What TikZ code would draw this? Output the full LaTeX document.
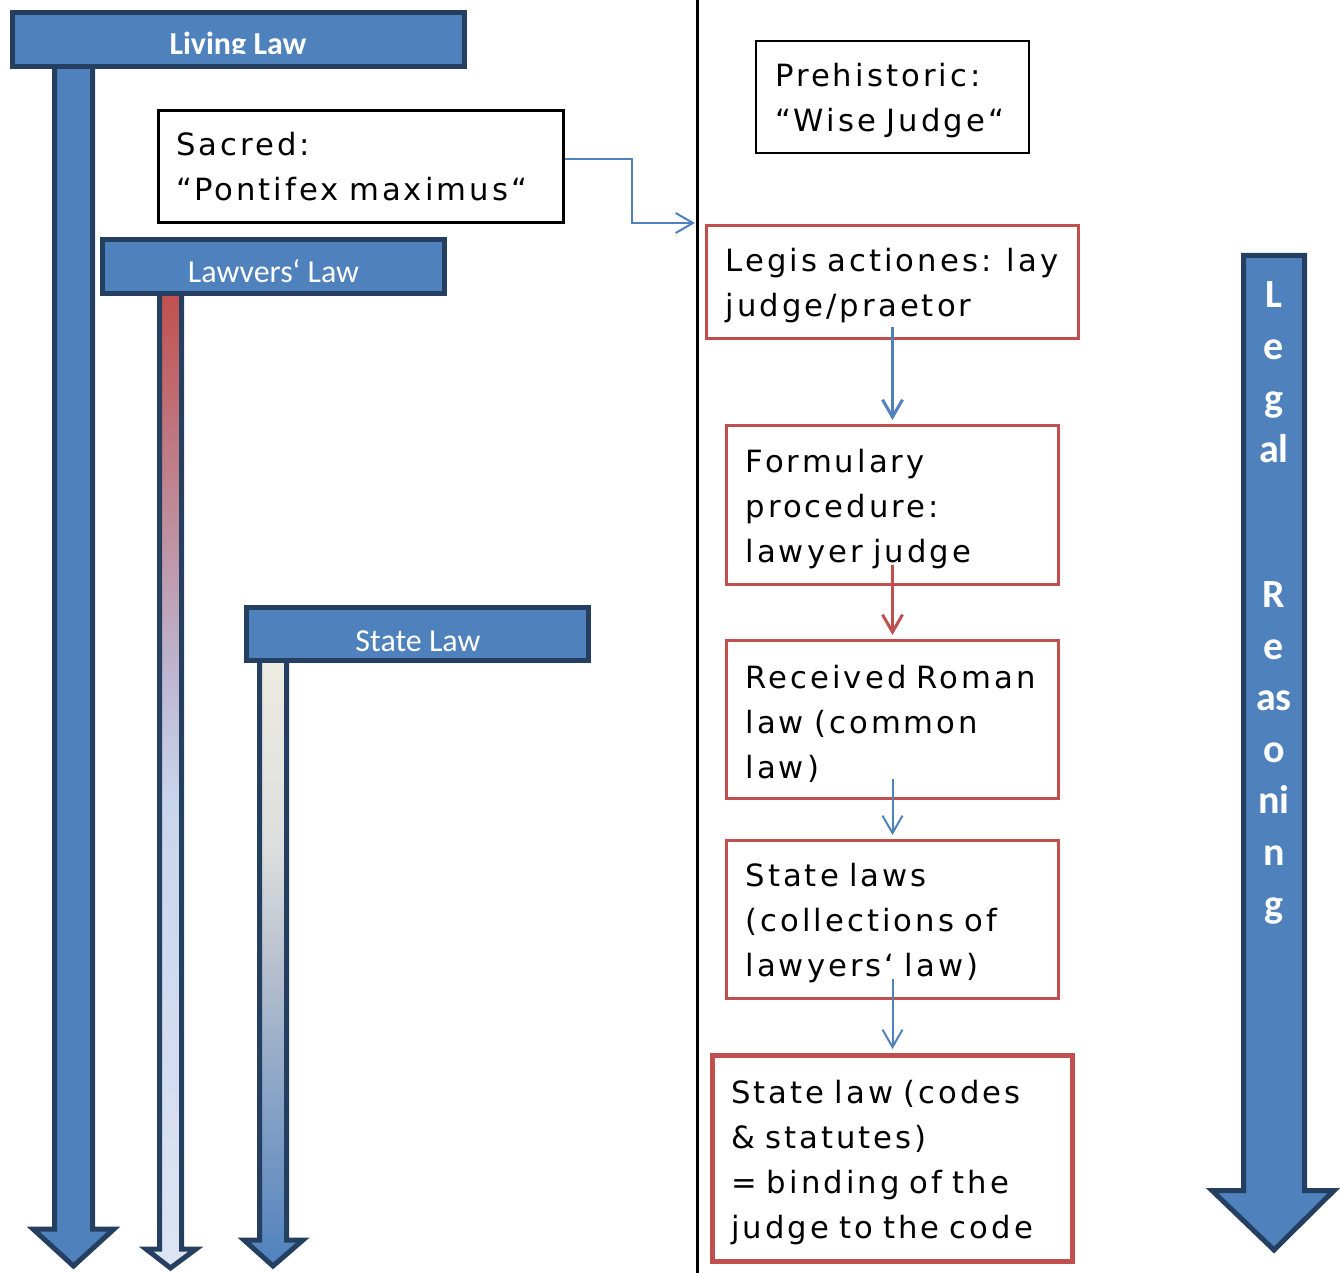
\documentclass[tikz,border=0pt]{standalone}
\usepackage{fontspec}
\setmainfont{DejaVu Sans}
\newfontfamily\boxfont[LetterSpace=10]{DejaVu Sans}
\newfontfamily\calibri{Carlito}
\usetikzlibrary{arrows.meta}
\definecolor{accblue}{RGB}{79,129,189}
\definecolor{accnavy}{RGB}{36,63,96}
\definecolor{accred}{RGB}{192,80,77}
\definecolor{lawlav}{RGB}{190,184,210}
\definecolor{lawlight}{RGB}{201,213,236}
\definecolor{lawbot}{RGB}{221,228,243}
\definecolor{stbeige}{RGB}{238,236,225}
\definecolor{stgrey}{RGB}{220,222,222}
\definecolor{stmid}{RGB}{180,190,205}
\pgfdeclareverticalshading{lawshade}{100bp}{color(0bp)=(lawbot); color(25bp)=(lawbot); color(49bp)=(lawlight); color(55bp)=(lawlav); color(75bp)=(accred); color(100bp)=(accred)}
\pgfdeclareverticalshading{stateshade}{100bp}{color(0bp)=(accblue); color(25bp)=(accblue); color(49bp)=(stmid); color(59bp)=(stgrey); color(75bp)=(stbeige); color(100bp)=(stbeige)}
\newcommand\firststrut{\rule{0pt}{23.5pt}}
\tikzset{
  bar/.style={draw=accnavy, line width=3.75pt, fill=accblue, line join=miter},
  shaft/.style={draw=accnavy, line width=3.75pt, line join=miter},
  bartext/.style={text=white, font=\calibri\fontsize{24}{28}\selectfont, anchor=base, inner sep=0pt},
  reason/.style={text=white, font=\calibri\bfseries\fontsize{30}{36}\selectfont, anchor=base, inner sep=0pt},
  tbox/.style={draw=black, line width=2pt, align=left, font=\boxfont\fontsize{23}{33.75}\selectfont,
    inner ysep=0pt, inner xsep=14.25pt},
  rbox/.style={tbox, draw=accred, line width=2.25pt},
  link/.style={draw=accblue, line width=1.5pt, -{Straight Barb[length=13pt,width=15pt]}},
  linkthick/.style={link, line width=2.25pt},
}
\begin{document}
\begin{tikzpicture}[x=0.75pt, y=-0.75pt]
\useasboundingbox (0,0) rectangle (1340,1273);

% shafts
\path[shaft, fill=accblue] (54.5,60) -- (92.5,60) -- (92.5,1229) -- (114,1229) -- (73.5,1266) -- (33,1229) -- (54.5,1229) -- cycle;
\shadedraw[shading=lawshade, shaft] (159.5,290) -- (181.5,290) -- (181.5,1249) -- (196,1249) -- (170.5,1268) -- (146,1249) -- (159.5,1249) -- cycle;
\shadedraw[shading=stateshade, shaft] (259.5,655) -- (286.5,655) -- (286.5,1240) -- (303,1240) -- (273,1266) -- (244,1240) -- (259.5,1240) -- cycle;
\path[shaft, fill=accblue] (1243.5,255.5) -- (1304.5,255.5) -- (1304.5,1190.5) -- (1334,1190.5) -- (1274,1250) -- (1212,1190.5) -- (1243.5,1190.5) -- cycle;

% bars
\path[bar] (12.5,12.5) rectangle (464.5,66.5);
\path[bar] (102.5,239.5) rectangle (444.5,293.5);
\path[bar] (246.5,607.5) rectangle (588,660.5);

\begin{scope}
  \clip (15,15) rectangle (462,53.5);
  \node[bartext, font=\calibri\bfseries\fontsize{24}{28}\selectfont] (livingtxt) at (238,54.5) {Living Law};
\end{scope}
\node[bartext] (lawyerstxt) at (273.5,283) {Lawvers‘ Law};
\node[bartext] (statetxt) at (418,651) {State Law};

\foreach \t/\yy [count=\i] in {L/308, e/360, g/412, al/463, R/607, e/659, as/710, o/762, ni/813, n/865, g/917}
  \node[reason] (lr\i) at (1274,\yy) {\t};

% divider
\coordinate (divtop) at (697,0);
\coordinate (divbot) at (697,1273);
\draw[line width=2.25pt] (divtop) -- (divbot);

% boxes
\node[tbox, inner xsep=13.125pt, minimum width=303.75pt, minimum height=84pt, text width=277.5pt] (sacred) at (361,166.5)
  {Sacred:\\\mbox{“Pontifex maximus“}};
\node[tbox, line width=1.5pt, minimum width=204.75pt, minimum height=84pt, text width=176.25pt] (prehist) at (892.5,97)
  {\firststrut Prehistoric:\\\mbox{“Wise Judge“}};
\node[rbox, minimum width=279pt, minimum height=84.75pt, text width=250.5pt] (legis) at (892.5,282)
  {\firststrut\mbox{Legis actiones: lay}\\judge/praetor};
\node[rbox, minimum width=249pt, minimum height=119.25pt, text width=220.5pt] (formulary) at (892.5,505)
  {\firststrut Formulary\\procedure:\\\mbox{lawyer judge}};
\node[rbox, minimum width=249pt, minimum height=118.5pt, text width=220.5pt] (received) at (892.5,719.5)
  {\firststrut\mbox{Received Roman}\\\mbox{law (common}\\law)};
\node[rbox, minimum width=249pt, minimum height=118.5pt, text width=220.5pt] (statelaws) at (892.5,919.5)
  {\firststrut State laws\\\mbox{(collections of}\\\mbox{lawyers‘ law)}};
\node[rbox, line width=3.75pt, inner xsep=13.875pt, minimum width=270pt, minimum height=154.5pt, text width=242.25pt] (codes) at (892.5,1158.5)
  {\firststrut\mbox{State law (codes}\\\mbox{\& statutes)}\\\mbox{= binding of the}\\\mbox{judge to the code}};

% connectors
\coordinate (sacredin) at (695,223);
\draw[link] ([yshift=5.6pt]sacred.east) -- ++(67,0) |- (sacredin);
\draw[linkthick] ([yshift=10pt]legis.south) -- ([yshift=3pt]formulary.north);
\draw[linkthick, draw=accred] ([yshift=16pt]formulary.south) -- ([yshift=3pt]received.north);
\draw[link] ([yshift=15.5pt]received.south) -- ([yshift=3pt]statelaws.north);
\draw[link] ([yshift=15.5pt]statelaws.south) -- ([yshift=3pt]codes.north);
\end{tikzpicture}
\end{document}
